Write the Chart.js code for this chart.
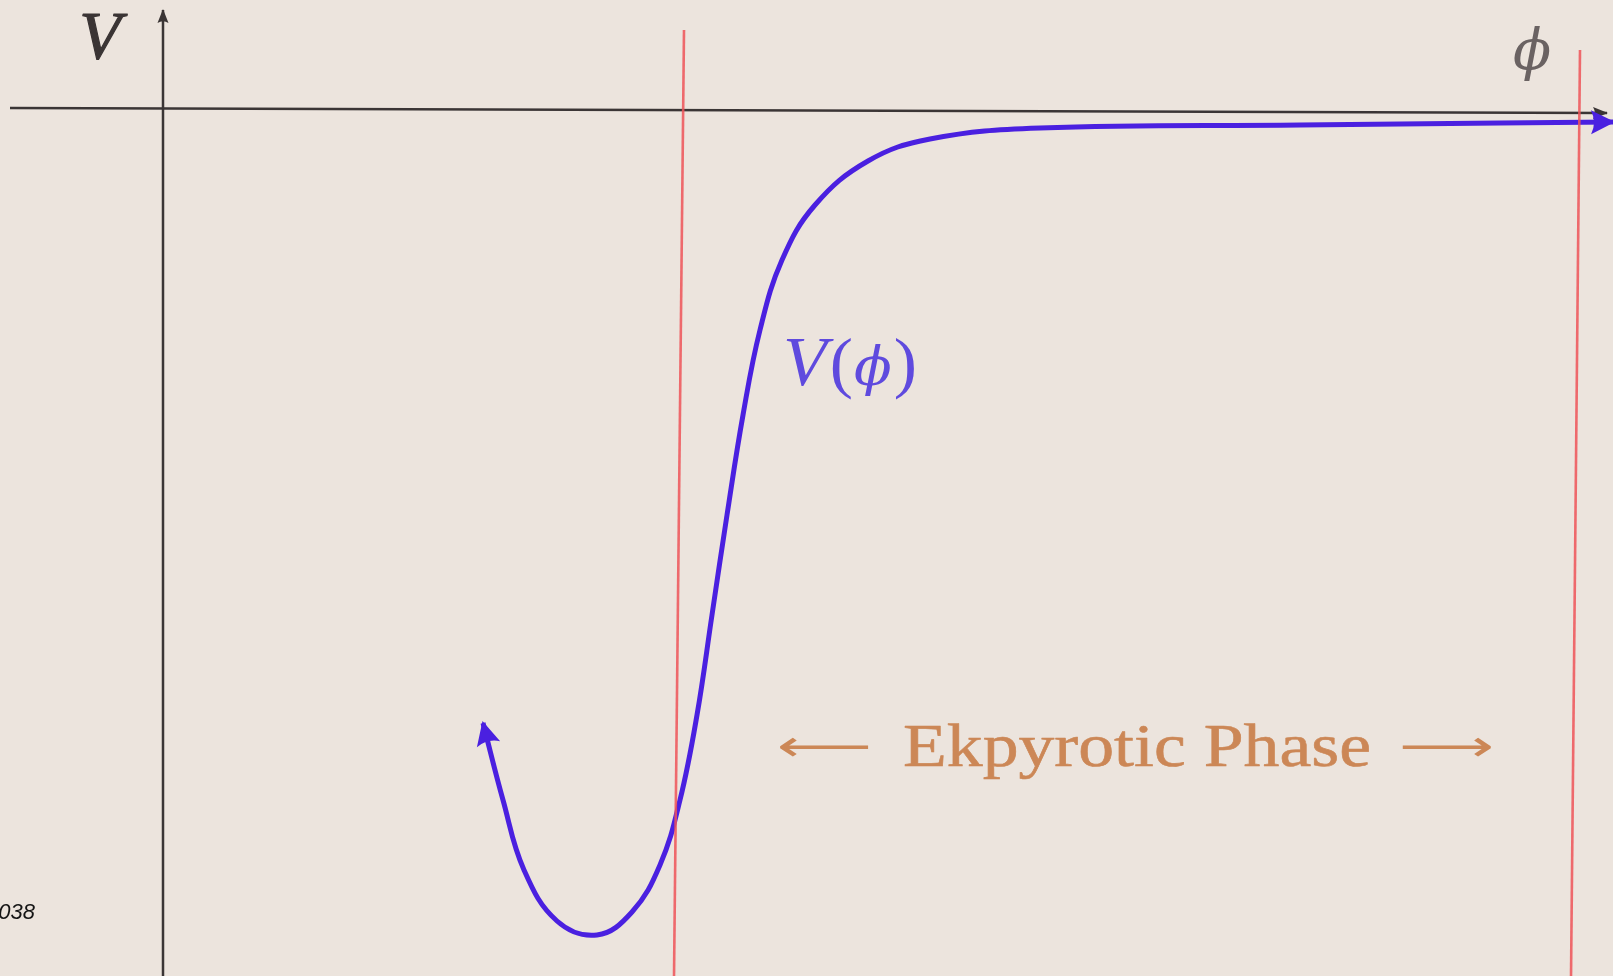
<!DOCTYPE html>
<html>
<head>
<meta charset="utf-8">
<title>V(ϕ) – Ekpyrotic Phase</title>
<script src="https://cdn.jsdelivr.net/npm/chart.js@4/dist/chart.umd.min.js"></script>
<style>
  html, body { margin: 0; padding: 0; background: #ece4dd; overflow: hidden; }
  #wrap { position: relative; width: 1613px; height: 976px; }
  #c { filter: blur(0.45px); }
</style>
</head>
<body>
<div id="wrap"><canvas id="c"></canvas></div>
<script>
// Potential curve V(phi)
const phi       = [3.20, 3.40, 3.61, 3.94, 4.34, 4.69, 4.97, 5.17, 5.34, 5.49, 5.64, 5.80, 5.97, 6.19, 6.52, 7.05, 7.67, 8.77, 11.37, 13.37, 14.50];
const potential = [-6.14, -6.91, -7.61, -8.12, -8.26, -8.03, -7.56, -6.91, -6.06, -5.06, -4.06, -3.06, -2.21, -1.51, -0.96, -0.52, -0.30, -0.19, -0.16, -0.14, -0.13];

// Coordinate axes (V axis and phi axis)
const vAxisPhi   = [0.00, 0.00];
const vAxisV     = [-8.67, 0.99];
const phiAxisPhi = [-1.53, 14.44];
const phiAxisV   = [0.01, -0.04];

// Boundaries of the ekpyrotic phase
const leftEdgePhi  = [5.21, 5.11];
const leftEdgeV    = [0.79, -8.67];
const rightEdgePhi = [14.17, 14.08];
const rightEdgeV   = [0.59, -8.67];

// Visible window
const phiRange = [-1.63, 14.50];
const vRange   = [-8.67, 1.09];

const pts = (xs, ys) => xs.map((x, i) => ({ x, y: ys[i] }));

const BG = '#ece4dd';
const AXIS = '#3b3535';
const CURVE = '#4a20e0';
const EDGE = 'rgba(238, 84, 88, 0.85)';

// Text placed in data coordinates
const annotations = {
  vLabel:     { phi: -0.63, v: 0.51 },
  phiLabel:   { phi: 13.69, v: 0.40 },
  curveLabel: { phi: 6.20, v: -2.76, width: 1.34 },
  phase:      { phiFrom: 6.14, v: -6.57, textFrom: 7.40, textTo: 12.08, arrowTo: 12.36 },
  corner:     { phi: -1.28, v: -8.10 }
};

function drawArrowHead(ctx, tip, from, len, half, color, push) {
  const ang = Math.atan2(tip.y - from.y, tip.x - from.x);
  ctx.save();
  ctx.translate(tip.x + Math.cos(ang) * push, tip.y + Math.sin(ang) * push);
  ctx.rotate(ang);
  ctx.beginPath();
  ctx.moveTo(0, 0);
  ctx.lineTo(-len, -half);
  ctx.quadraticCurveTo(-len * 0.75, 0, -len, half);
  ctx.closePath();
  ctx.fillStyle = color;
  ctx.fill();
  ctx.restore();
}

const backgroundPlugin = {
  id: 'background',
  beforeDraw(chart) {
    const { ctx, width, height } = chart;
    ctx.save();
    ctx.fillStyle = BG;
    ctx.fillRect(0, 0, width, height);
    ctx.restore();
  }
};

// Arrowheads use the direction of the drawn path at each end
const arrowPlugin = {
  id: 'arrows',
  afterDatasetDraw(chart, args) {
    const ds = chart.data.datasets[args.index];
    if (!ds.arrow) return;
    const p = args.meta.data;
    const ctx = chart.ctx;
    const a = ds.arrow;
    const n = p.length;
    if (a.end) {
      const last = p[n - 1];
      const from = (last.cp1x !== undefined && ds.tension) ? { x: last.cp1x, y: last.cp1y } : p[n - 2];
      drawArrowHead(ctx, last, from, a.len, a.half, ds.borderColor, a.push || 0);
    }
    if (a.start) {
      const first = p[0];
      const from = (first.cp2x !== undefined && ds.tension) ? { x: first.cp2x, y: first.cp2y } : p[1];
      drawArrowHead(ctx, first, from, a.len, a.half, ds.borderColor, a.push || 0);
    }
  }
};

function heavyText(ctx, text, x, y, w) {
  ctx.lineWidth = w;
  ctx.strokeStyle = ctx.fillStyle;
  ctx.strokeText(text, x, y);
  ctx.fillText(text, x, y);
}

const labelPlugin = {
  id: 'labels',
  afterDraw(chart) {
    const { ctx } = chart;
    const X = v => chart.scales.x.getPixelForValue(v);
    const Y = v => chart.scales.y.getPixelForValue(v);
    ctx.save();
    ctx.textBaseline = 'alphabetic';
    ctx.lineJoin = 'round';

    // axis names
    ctx.fillStyle = '#3a3434';
    ctx.font = 'italic 68px "Liberation Serif", "DejaVu Serif", serif';
    ctx.textAlign = 'center';
    heavyText(ctx, 'V', X(annotations.vLabel.phi), Y(annotations.vLabel.v), 1.2);
    ctx.fillStyle = '#6a6262';
    ctx.font = 'italic 56px "DejaVu Serif", "Liberation Serif", serif';
    ctx.fillText('ϕ', X(annotations.phiLabel.phi), Y(annotations.phiLabel.v));

    // curve name V(ϕ), stretched to the width of the math setting
    ctx.textAlign = 'left';
    ctx.fillStyle = '#5f4ade';
    const cl = annotations.curveLabel;
    const parts = [
      ['V', 'italic 70px "Liberation Serif", serif', 3],
      ['(', '68px "Liberation Serif", serif', 1],
      ['ϕ', 'italic 54px "DejaVu Serif", serif', 2],
      [')', '68px "Liberation Serif", serif', 0]
    ];
    let total = 0;
    parts.forEach(([t, f, gap]) => { ctx.font = f; total += ctx.measureText(t).width + gap; });
    const sx = (X(cl.phi + cl.width) - X(cl.phi)) / total;
    ctx.save();
    ctx.translate(X(cl.phi), Y(cl.v));
    ctx.scale(sx, 1);
    let x = 0;
    parts.forEach(([t, f, gap]) => {
      ctx.font = f;
      ctx.fillText(t, x, 0);
      x += ctx.measureText(t).width + gap;
    });
    ctx.restore();

    // phase caption with long arrows
    const ph = annotations.phase;
    const by = Y(ph.v);
    ctx.fillStyle = '#cc8756';
    ctx.font = '62px "Liberation Serif", serif';
    const cap = 'Ekpyrotic Phase';
    const tw = ctx.measureText(cap).width;
    const want = X(ph.textTo) - X(ph.textFrom);
    ctx.save();
    ctx.translate(X(ph.textFrom), by);
    ctx.scale(want / tw, 1);
    heavyText(ctx, cap, 0, 0, 0.6);
    ctx.restore();

    ctx.font = '44px "DejaVu Sans", sans-serif';
    ctx.textBaseline = 'middle';
    const aw = 95;
    [['⟵', ph.phiFrom], ['⟶', ph.arrowTo]].forEach(([g, p]) => {
      const w = ctx.measureText(g).width;
      ctx.save();
      ctx.translate(X(p), by - 16);
      ctx.scale(aw / w, 1);
      ctx.fillText(g, 0, 0);
      ctx.restore();
    });

    // corner number
    ctx.textBaseline = 'alphabetic';
    ctx.textAlign = 'right';
    ctx.fillStyle = '#151515';
    ctx.font = 'italic 22px "Liberation Sans", Arial, sans-serif';
    ctx.fillText('038', X(annotations.corner.phi), Y(annotations.corner.v));
    ctx.restore();
  }
};

new Chart(document.getElementById('c'), {
  type: 'scatter',
  data: {
    datasets: [
      {
        label: 'left edge', data: pts(leftEdgePhi, leftEdgeV),
        showLine: true, borderColor: EDGE, borderWidth: 2.6, pointRadius: 0, clip: false, order: 0
      },
      {
        label: 'right edge', data: pts(rightEdgePhi, rightEdgeV),
        showLine: true, borderColor: EDGE, borderWidth: 2.6, pointRadius: 0, clip: false, order: 0
      },
      {
        label: 'V(ϕ)', data: pts(phi, potential),
        showLine: true, borderColor: CURVE, borderWidth: 5, pointRadius: 0,
        tension: 0.4, clip: false, order: 1,
        arrow: { start: true, end: true, len: 24, half: 12, push: 2 }
      },
      {
        label: 'V axis', data: pts(vAxisPhi, vAxisV),
        showLine: true, borderColor: AXIS, borderWidth: 2.5, pointRadius: 0, clip: false, order: 2,
        arrow: { end: true, len: 14, half: 5.5, push: 1 }
      },
      {
        label: 'ϕ axis', data: pts(phiAxisPhi, phiAxisV),
        showLine: true, borderColor: AXIS, borderWidth: 2.5, pointRadius: 0, clip: false, order: 2,
        arrow: { end: true, len: 15, half: 6, push: 1 }
      }
    ]
  },
  options: {
    responsive: true,
    maintainAspectRatio: false,
    animation: false,
    devicePixelRatio: 1,
    layout: { padding: 0 },
    plugins: { legend: { display: false }, tooltip: { enabled: false } },
    scales: {
      x: { type: 'linear', min: phiRange[0], max: phiRange[1], display: false },
      y: { type: 'linear', min: vRange[0], max: vRange[1], display: false }
    }
  },
  plugins: [backgroundPlugin, arrowPlugin, labelPlugin]
});
</script>
</body>
</html>
